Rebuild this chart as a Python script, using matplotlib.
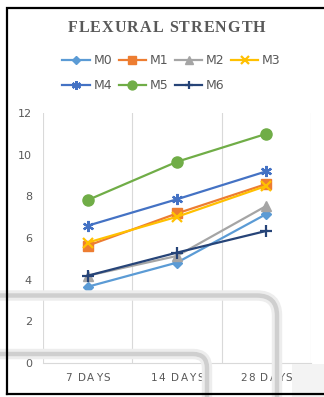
import matplotlib
matplotlib.use("Agg")
import matplotlib.pyplot as plt
from matplotlib.path import Path
from matplotlib.patches import PathPatch, Rectangle

days = ["7 DAYS", "14 DAYS", "28 DAYS"]
m0 = [3.66, 4.82, 7.15]
m1 = [5.63, 7.18, 8.59]
m2 = [4.19, 5.14, 7.54]
m3 = [5.78, 7.02, 8.50]
m4 = [6.59, 7.86, 9.20]
m5 = [7.82, 9.66, 11.00]
m6 = [4.19, 5.30, 6.34]

series = [
    ("M0", m0, "#5B9BD5", "D", 5),
    ("M1", m1, "#ED7D31", "s", 7),
    ("M2", m2, "#A5A5A5", "^", 7),
    ("M3", m3, "#FFC000", "x", 7),
    ("M4", m4, "#4472C4", (6, 2, 0), 8),
    ("M5", m5, "#70AD47", "o", 8),
    ("M6", m6, "#264478", "+", 8),
]

W, H = 324, 397
fig = plt.figure(figsize=(W / 100, H / 100), dpi=100)
fig.patch.set_facecolor("white")

ax = fig.add_axes([43 / W, 1 - 363 / H, (311 - 43) / W, (363 - 113) / H])
x = list(range(len(days)))
handles = []
for name, vals, col, mk, ms in series:
    h, = ax.plot(x, vals, color=col, lw=1.6, marker=mk, ms=ms,
                 mew=1.6 if mk in ("x", "+") or isinstance(mk, tuple) else 1,
                 mfc=col, mec=col, label=name)
    handles.append(h)

ax.set_xlim(-0.5, 2.5)
ax.set_ylim(0, 12)
ax.set_yticks(range(0, 13, 2))
ax.set_xticks(x)
ax.set_xticklabels([])
for v in [-0.5, 0.5, 1.5, 2.5]:
    ax.axvline(v, color="#d9d9d9", lw=0.8, zorder=0)
for s in ["top", "right", "left"]:
    ax.spines[s].set_visible(False)
ax.spines["bottom"].set_color("#d9d9d9")
ax.tick_params(length=0, colors="#595959", labelsize=8)
ax.tick_params(axis="y", pad=8)

# legend rows: M0..M3 on top, M4..M6 below
order = [0, 4, 1, 5, 2, 6, 3]
fig.legend([handles[i] for i in order], [series[i][0] for i in order],
           ncol=4, loc="upper left", bbox_to_anchor=(56 / W, 1 - 48 / H),
           frameon=False, fontsize=9, labelcolor="#595959",
           handlelength=2.2, handletextpad=0.3, columnspacing=0.5,
           labelspacing=0.95, borderpad=0, markerscale=0.8)

# overlay in pixel units (origin top-left) for text, frame and grey bands
ov = fig.add_axes([0, 0, 1, 1], zorder=10)
ov.set_xlim(0, W)
ov.set_ylim(H, 0)
ov.axis("off")
ov.patch.set_alpha(0)

renderer = fig.canvas.get_renderer()


def spaced(xc, y, s, total, space_w, **kw):
    # lay out the letters one by one so the word spreads over `total` px
    ws = []
    for ch in s:
        if ch == " ":
            ws.append(space_w)
            continue
        t = ov.text(0, 0, ch, **kw)
        ws.append(t.get_window_extent(renderer).width)
        t.remove()
    track = (total - sum(ws)) / (len(s) - 1)
    cx = xc - total / 2
    for ch, w in zip(s, ws):
        if ch != " ":
            ov.text(cx, y, ch, ha="left", va="center", zorder=1, **kw)
        cx += w + track


spaced(166.5, 28, "FLEXURAL STRENGTH", 198, 4, family="Liberation Serif",
       fontweight="bold", fontsize=11.5, color="#595959")

label_w = [45, 53, 52]
for i, lab in enumerate(days):
    px = ax.transData.transform((i, 0))[0]
    spaced(px, 378, lab, label_w[i], 3, family="DejaVu Sans", fontsize=7.5,
           color="#595959")


def band(y, xc, r):
    verts = [(0, y), (xc - r, y), (xc, y), (xc, y + r), (xc, H)]
    codes = [Path.MOVETO, Path.LINETO, Path.CURVE3, Path.CURVE3, Path.LINETO]
    p = Path(verts, codes)
    ov.add_patch(PathPatch(p, fill=False, ec="#ededed", lw=7.5, zorder=4))
    ov.add_patch(PathPatch(p, fill=False, ec="#cfcfcf", lw=3.2, zorder=4))


band(295.5, 277, 20)
band(354, 207, 14)
ov.add_patch(Rectangle((292, 364), 32, 33, color="#f3f3f3", lw=0, zorder=0))

ov.plot([7, 7, W], [394, 7.5, 7.5], color="black", lw=1.6,
        solid_joinstyle="miter", zorder=5)
ov.plot([7, W], [394, 394], color="black", lw=1.6, zorder=5)

fig.savefig("out.png", dpi=100)
